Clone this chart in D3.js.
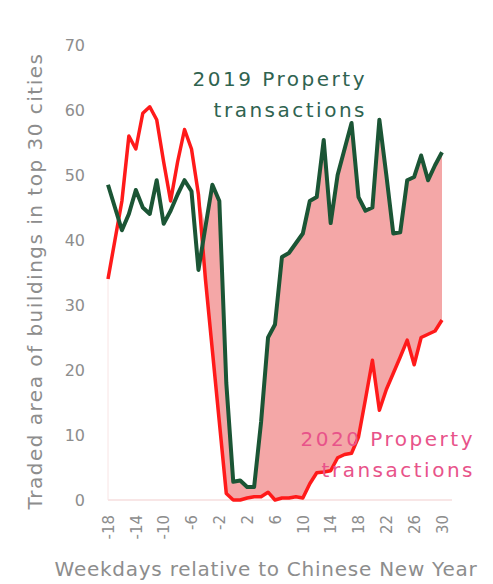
<!DOCTYPE html>
<html>
<head>
<meta charset="utf-8">
<script src="https://cdn.jsdelivr.net/npm/d3@7"></script>
<style>
  body { margin: 0; background: #fff; }
  svg text { font-family: "DejaVu Sans", "Open Sans", sans-serif; }
</style>
</head>
<body>
<div class="chart"></div>
<script>
// weekdays relative to Chinese New Year
var days = d3.range(-18, 31);
var xTicks = [-18, -14, -10, -6, -2, 2, 6, 10, 14, 18, 22, 26, 30];
var yTicks = [0, 10, 20, 30, 40, 50, 60, 70];

var values2019 = [48.5, 45, 41.5, 44, 47.7, 45, 44, 49.2, 42.5, 44.5, 47, 49.2, 47.5, 35.4, 42, 48.5, 46, 18,
    2.8, 3, 2, 2, 12, 25, 27, 37.4, 38, 39.5, 41, 46, 46.6, 55.4, 42.6, 50, 54, 58, 46.6, 44.5, 45, 58.5,
    50, 41, 41.2, 49.2, 49.7, 53, 49.2, 51.5, 53.5];
var values2020 = [34, 40, 46, 56, 54, 59.5, 60.5, 58.5, 52, 46, 52, 57, 54, 47, 34, 23, 12, 1,
    0, 0, 0.3, 0.5, 0.5, 1.2, 0, 0.3, 0.3, 0.5, 0.3, 2.5, 4.2, 4.3, 4.5, 6.5, 7, 7.2, 9.7, 15.5, 21.5, 13.8,
    17, 19.5, 22, 24.6, 20.8, 25, 25.5, 26, 27.7];

var width = 493, height = 584;
var margin = { top: 45, right: 51, bottom: 84, left: 108 };
var grey = "#8d8d8d";

var svg = d3.select(".chart").append("svg")
    .attr("width", width)
    .attr("height", height);

var x = d3.scaleLinear().domain([-18, 30]).range([margin.left, width - margin.right]);
var y = d3.scaleLinear().domain([0, 70]).range([height - margin.bottom, margin.top]);

var rows = days.map(function (d, i) {
    return { day: d, a: values2019[i], b: values2020[i] };
});

/*
    Shaded gap between the two years (only once 2020 drops below 2019)
*/
var gap = d3.area()
    .x(function (d) { return x(d.day); })
    .y0(function (d) { return y(d.b); })
    .y1(function (d) { return y(Math.max(d.a, d.b)); });

svg.append("path")
    .datum(rows.filter(function (d) { return d.day >= -6; }))
    .attr("fill", "#f4a7a7")
    .attr("d", gap);

// faint frame lines
svg.append("line")
    .attr("x1", x(-18)).attr("x2", x(30) + 10)
    .attr("y1", y(0)).attr("y2", y(0))
    .attr("stroke", "#f6dede").attr("stroke-width", 1.5);
svg.append("line")
    .attr("x1", x(-18)).attr("x2", x(-18))
    .attr("y1", y(values2020[0])).attr("y2", y(0))
    .attr("stroke", "#f8e4e4").attr("stroke-width", 1);

/*
    Lines
*/
var line2019 = d3.line().x(function (d) { return x(d.day); }).y(function (d) { return y(d.a); });
var line2020 = d3.line().x(function (d) { return x(d.day); }).y(function (d) { return y(d.b); });

svg.append("path")
    .datum(rows)
    .attr("fill", "none")
    .attr("stroke", "#ff1a1a")
    .attr("stroke-width", 3.5)
    .attr("stroke-linejoin", "round")
    .attr("d", line2020);

svg.append("path")
    .datum(rows)
    .attr("fill", "none")
    .attr("stroke", "#1b5535")
    .attr("stroke-width", 4)
    .attr("stroke-linejoin", "round")
    .attr("d", line2019);

/*
    Axes
*/
var yAxis = svg.append("g")
    .attr("transform", "translate(" + (margin.left - 23) + ",0)")
    .call(d3.axisLeft(y).tickValues(yTicks).tickSize(0).tickPadding(0));
yAxis.select(".domain").remove();
yAxis.selectAll("text")
    .attr("fill", grey)
    .attr("font-size", 16)
    .attr("font-family", "'DejaVu Sans', sans-serif");

var xAxis = svg.append("g")
    .attr("transform", "translate(0," + (y(0) + 15) + ")")
    .call(d3.axisBottom(x).tickValues(xTicks).tickSize(0).tickPadding(0)
        .tickFormat(function (d) { return String(d); }));
xAxis.select(".domain").remove();
xAxis.selectAll("text")
    .attr("fill", grey)
    .attr("font-size", 15)
    .attr("font-family", "'DejaVu Sans', sans-serif")
    .attr("transform", "rotate(-90)")
    .attr("text-anchor", "end")
    .attr("x", 0)
    .attr("y", 0)
    .attr("dy", "0.35em");

svg.append("text")
    .attr("transform", "translate(42,281) rotate(-90)")
    .attr("text-anchor", "middle")
    .attr("fill", grey)
    .attr("font-size", 20)
    .attr("letter-spacing", 1.5)
    .text("Traded area of buildings in top 30 cities");

svg.append("text")
    .attr("x", 266)
    .attr("y", 576)
    .attr("text-anchor", "middle")
    .attr("fill", grey)
    .attr("font-size", 20)
    .attr("letter-spacing", 0.75)
    .text("Weekdays relative to Chinese New Year");

/*
    Annotations
*/
var notes = [
    { lines: ["2019 Property", "transactions"], x: 367, y: 86, color: "#2f6350" },
    { lines: ["2020 Property", "transactions"], x: 475, y: 446, color: "#e8538a" }
];
notes.forEach(function (n) {
    var t = svg.append("text")
        .attr("text-anchor", "end")
        .attr("fill", n.color)
        .attr("font-size", 20)
        .attr("letter-spacing", 2.5);
    n.lines.forEach(function (s, i) {
        t.append("tspan").attr("x", n.x).attr("y", n.y + i * 31).text(s);
    });
});
</script>
</body>
</html>
